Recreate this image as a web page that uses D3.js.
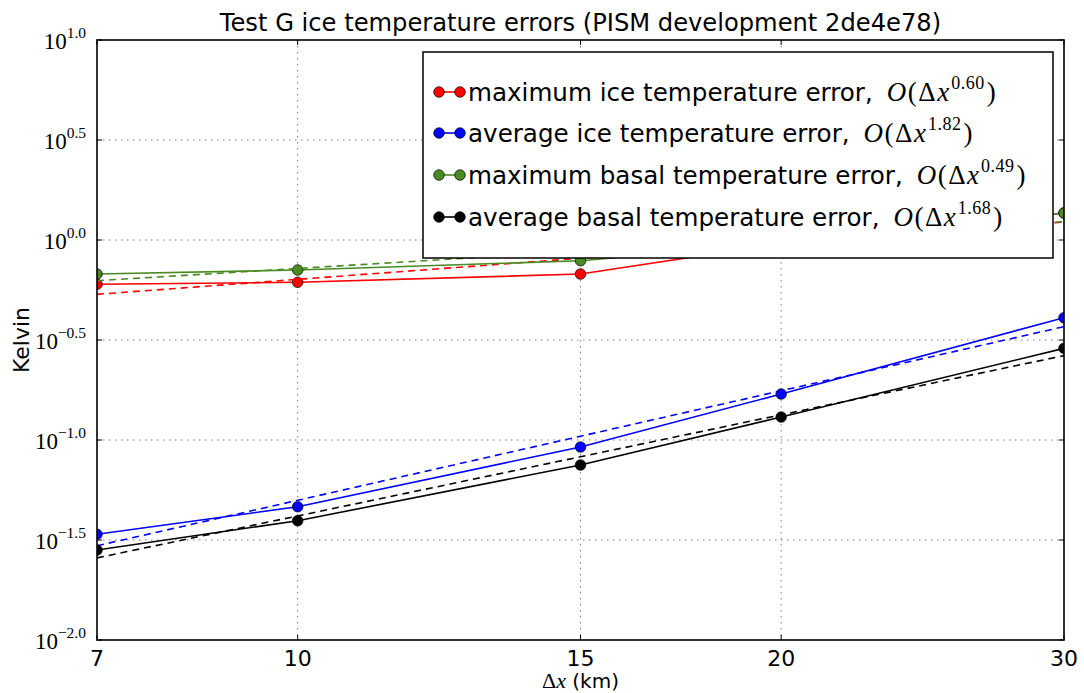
<!DOCTYPE html>
<html>
<head>
<meta charset="utf-8">
<script src="https://cdn.jsdelivr.net/npm/d3@7"></script>
<style>
  html, body { margin: 0; padding: 0; background: #fff; }
  svg { display: block; }
</style>
</head>
<body>
<svg id="chart" width="1084" height="693"></svg>
<script>
// Grid spacings (km) and their tick labels
const dxValues = [7.5, 10, 15, 20, 30];
const dxTickLabels = ["7", "10", "15", "20", "30"];

// Error norms (Kelvin) at each grid spacing
const maxIceErr   = [0.6005, 0.6145, 0.676, 0.959, 1.365];
const avgIceErr   = [0.03377, 0.04639, 0.09226, 0.1698, 0.4088];
const maxBasalErr = [0.676, 0.7079, 0.788, 0.9627, 1.365];
const avgBasalErr = [0.02818, 0.03948, 0.0750, 0.1303, 0.2874];

// Convergence rates reported in the legend
const rates = [0.60, 1.82, 0.49, 1.68];

const seriesNames = [
  "maximum ice temperature error,",
  "average ice temperature error,",
  "maximum basal temperature error,",
  "average basal temperature error,"
];
const seriesColors = ["#ff0000", "#0000ff", "#4a8a22", "#000000"];

// Y tick exponents (powers of ten)
const yTickExps = [-2.0, -1.5, -1.0, -0.5, 0.0, 0.5, 1.0];

const series = [maxIceErr, avgIceErr, maxBasalErr, avgBasalErr];

const svg = d3.select("#chart");
const L = 97, R = 1064, T = 40, B = 640;

const x = d3.scaleLog().domain([7.5, 30]).range([L, R]);
const y = d3.scaleLog().domain([0.01, 10]).range([B, T]);

const sans = "'DejaVu Sans', sans-serif";
const serif = "'Liberation Serif', 'DejaVu Serif', serif";

// Title
svg.append("text")
  .attr("x", (L + R) / 2).attr("y", 31)
  .attr("text-anchor", "middle")
  .style("font-family", sans).style("font-size", "24.2px")
  .text("Test G ice temperature errors (PISM development 2de4e78)");

// Dotted grid
const grid = svg.append("g")
  .attr("stroke", "#7a7a7a").attr("stroke-width", 1)
  .attr("stroke-dasharray", "1.5,4.5");
grid.selectAll("line.h").data(yTickExps.slice(1, -1)).join("line")
  .attr("x1", L).attr("x2", R)
  .attr("y1", e => y(Math.pow(10, e))).attr("y2", e => y(Math.pow(10, e)));
grid.selectAll("line.v").data(dxValues.slice(1, -1)).join("line")
  .attr("y1", T).attr("y2", B)
  .attr("x1", d => x(d)).attr("x2", d => x(d));

// Clip to the axes area
svg.append("clipPath").attr("id", "plotclip")
  .append("rect").attr("x", L).attr("y", T).attr("width", R - L).attr("height", B - T);
const plot = svg.append("g").attr("clip-path", "url(#plotclip)");

const lx = dxValues.map(Math.log10);
const meanLx = d3.mean(lx);
const line = d3.line().x(d => x(d[0])).y(d => y(d[1]));

series.forEach((vals, i) => {
  const col = seriesColors[i];
  const pts = dxValues.map((d, j) => [d, vals[j]]);
  const g = plot.append("g");
  g.append("path").datum(pts)
    .attr("d", line).attr("fill", "none")
    .attr("stroke", col).attr("stroke-width", 1.6);
  g.selectAll("circle").data(pts).join("circle")
    .attr("cx", d => x(d[0])).attr("cy", d => y(d[1])).attr("r", 5.3)
    .attr("fill", col).attr("stroke", "#000").attr("stroke-width", 0.7);
  // Power-law fit with the stated rate: log E = log C + p log dx
  const p = rates[i];
  const logC = d3.mean(vals.map(Math.log10)) - p * meanLx;
  const fit = dxValues.map(d => [d, Math.pow(10, logC + p * Math.log10(d))]);
  g.append("path").datum(fit)
    .attr("d", line).attr("fill", "none")
    .attr("stroke", col).attr("stroke-width", 1.6)
    .attr("stroke-dasharray", "7,5");
});

// Frame
svg.append("rect").attr("x", L).attr("y", T).attr("width", R - L).attr("height", B - T)
  .attr("fill", "none").attr("stroke", "#000").attr("stroke-width", 1.6);

// Inward ticks on all sides
const ticks = svg.append("g").attr("stroke", "#000").attr("stroke-width", 1);
yTickExps.forEach(e => {
  const yy = y(Math.pow(10, e));
  ticks.append("line").attr("x1", L).attr("x2", L + 5).attr("y1", yy).attr("y2", yy);
  ticks.append("line").attr("x1", R).attr("x2", R - 5).attr("y1", yy).attr("y2", yy);
});
dxValues.forEach(d => {
  const xx = x(d);
  ticks.append("line").attr("x1", xx).attr("x2", xx).attr("y1", B).attr("y2", B - 5);
  ticks.append("line").attr("x1", xx).attr("x2", xx).attr("y1", T).attr("y2", T + 5);
});

// X tick labels
svg.append("g").selectAll("text").data(dxValues).join("text")
  .attr("x", d => x(d)).attr("y", 666)
  .attr("text-anchor", "middle")
  .style("font-family", sans).style("font-size", "22px")
  .text((d, i) => dxTickLabels[i]);

// Y tick labels: 10^e
yTickExps.forEach(e => {
  const yy = y(Math.pow(10, e));
  const t = svg.append("text")
    .attr("x", 86).attr("y", yy + 9)
    .attr("text-anchor", "end")
    .style("font-family", serif).style("font-size", "23px");
  t.append("tspan").text("10");
  t.append("tspan").attr("dy", -11).style("font-size", "15.5px")
    .text(e.toFixed(1).replace("-", "\u2212"));
});

// Axis labels
svg.append("text")
  .attr("transform", "translate(29,340) rotate(-90)")
  .attr("text-anchor", "middle")
  .style("font-family", sans).style("font-size", "22px")
  .text("Kelvin");

const xl = svg.append("text")
  .attr("x", (L + R) / 2).attr("y", 688)
  .attr("text-anchor", "middle")
  .style("font-size", "20px");
xl.append("tspan").style("font-family", serif).style("font-size", "22px").text("\u0394");
xl.append("tspan").style("font-family", serif).style("font-size", "22px").style("font-style", "italic").text("x");
xl.append("tspan").style("font-family", sans).text(" (km)");

// Legend
const lg = svg.append("g");
lg.append("rect").attr("x", 423).attr("y", 52).attr("width", 630).attr("height", 206)
  .attr("fill", "#fff").attr("stroke", "#000").attr("stroke-width", 1.5);
const rowY = [92, 133, 175, 217];
series.forEach((vals, i) => {
  const cy = rowY[i];
  const col = seriesColors[i];
  lg.append("line").attr("x1", 439).attr("x2", 460).attr("y1", cy).attr("y2", cy)
    .attr("stroke", col).attr("stroke-width", 1.6);
  [439, 460].forEach(cx => lg.append("circle")
    .attr("cx", cx).attr("cy", cy).attr("r", 5.3)
    .attr("fill", col).attr("stroke", "#000").attr("stroke-width", 0.7));
  const t = lg.append("text").attr("x", 468).attr("y", cy + 9)
    .style("font-family", sans).style("font-size", "24.6px");
  t.append("tspan").text(seriesNames[i]);
  const m = { family: serif, size: "27px", ls: "1.5px" };
  t.append("tspan").attr("dx", 14).style("font-family", m.family).style("font-style", "italic")
    .style("font-size", m.size).style("letter-spacing", m.ls).text("O");
  t.append("tspan").style("font-family", m.family).style("font-size", m.size)
    .style("letter-spacing", m.ls).text("(\u0394");
  t.append("tspan").style("font-family", m.family).style("font-style", "italic")
    .style("font-size", m.size).text("x");
  t.append("tspan").attr("dy", -12).attr("dx", 2).style("font-family", m.family).style("font-size", "18px")
    .style("letter-spacing", "0.5px").text(rates[i].toFixed(2));
  t.append("tspan").attr("dy", 12).attr("dx", 2).style("font-family", m.family).style("font-size", m.size).text(")");
});
</script>
</body>
</html>
